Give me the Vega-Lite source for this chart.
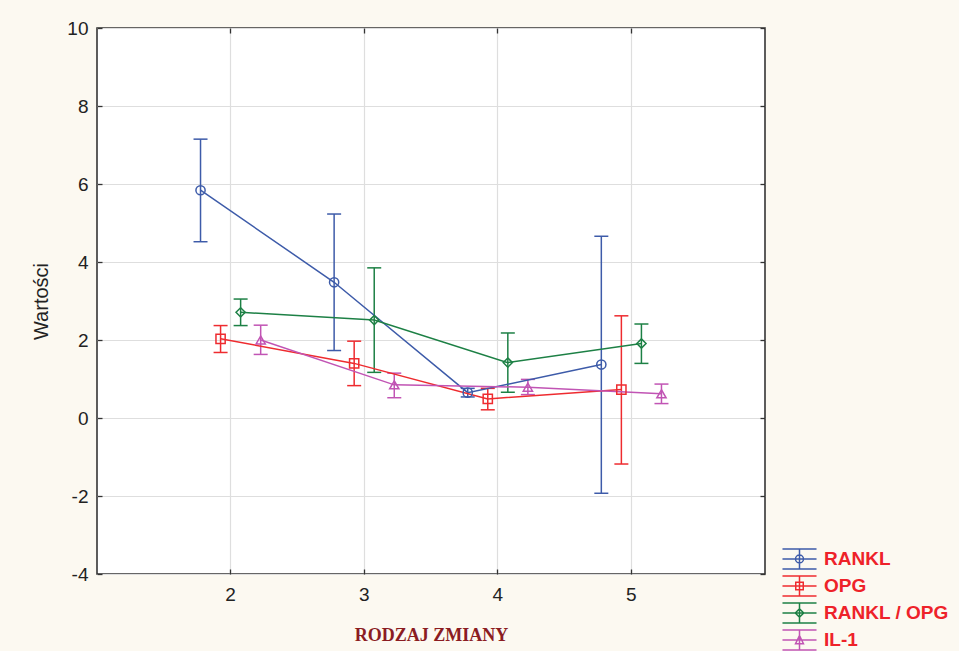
{
  "$schema": "https://vega.github.io/schema/vega-lite/v6.json",
  "width": 668,
  "height": 546,
  "autosize": {"type": "none"},
  "padding": {"left": 97, "top": 28, "right": 194, "bottom": 77},
  "background": "#fcf9f1",
  "config": {
    "font": "Liberation Sans",
    "view": {"fill": "white", "stroke": "#353535", "strokeWidth": 1.6},
    "axis": {
      "labelFont": "Liberation Sans",
      "labelFontSize": 19,
      "labelColor": "#222222",
      "tickColor": "#333333",
      "tickSize": -5,
      "tickWidth": 1.3,
      "domain": false,
      "gridColor": "#dedede",
      "gridWidth": 1.2
    },
    "legend": {"padding": 0, "rowPadding": 0}
  },
  "data": {
    "values": [
      {"rodzaj": "2", "series": "RANKL", "mean": 5.84, "lo": 4.52, "hi": 7.15},
      {"rodzaj": "3", "series": "RANKL", "mean": 3.48, "lo": 1.73, "hi": 5.23},
      {"rodzaj": "4", "series": "RANKL", "mean": 0.65, "lo": 0.54, "hi": 0.76},
      {"rodzaj": "5", "series": "RANKL", "mean": 1.37, "lo": -1.93, "hi": 4.66},
      {"rodzaj": "2", "series": "OPG", "mean": 2.03, "lo": 1.68, "hi": 2.37},
      {"rodzaj": "3", "series": "OPG", "mean": 1.40, "lo": 0.83, "hi": 1.97},
      {"rodzaj": "4", "series": "OPG", "mean": 0.49, "lo": 0.21, "hi": 0.76},
      {"rodzaj": "5", "series": "OPG", "mean": 0.73, "lo": -1.18, "hi": 2.62},
      {"rodzaj": "2", "series": "RANKL / OPG", "mean": 2.71, "lo": 2.37, "hi": 3.05},
      {"rodzaj": "3", "series": "RANKL / OPG", "mean": 2.51, "lo": 1.17, "hi": 3.85},
      {"rodzaj": "4", "series": "RANKL / OPG", "mean": 1.42, "lo": 0.66, "hi": 2.18},
      {"rodzaj": "5", "series": "RANKL / OPG", "mean": 1.91, "lo": 1.40, "hi": 2.41},
      {"rodzaj": "2", "series": "IL-1", "mean": 2.00, "lo": 1.63, "hi": 2.38},
      {"rodzaj": "3", "series": "IL-1", "mean": 0.85, "lo": 0.52, "hi": 1.15},
      {"rodzaj": "4", "series": "IL-1", "mean": 0.79, "lo": 0.60, "hi": 0.99},
      {"rodzaj": "5", "series": "IL-1", "mean": 0.62, "lo": 0.37, "hi": 0.87}
    ]
  },
  "resolve": {
    "scale": {"color": "independent", "shape": "independent"},
    "axis": {"x": "independent", "y": "independent"}
  },
  "layer": [
    {
      "mark": {"type": "rule", "strokeWidth": 1.5},
      "encoding": {
        "x": {
          "field": "rodzaj", "type": "ordinal",
          "scale": {"domain": ["2", "3", "4", "5"], "paddingInner": 0, "paddingOuter": 0.5},
          "axis": {
            "orient": "bottom", "grid": true, "bandPosition": 0.5, "labelAngle": 0,
            "labelPadding": 16, "title": "RODZAJ ZMIANY",
            "titleFont": "Liberation Serif", "titleFontWeight": "bold",
            "titleFontSize": 18, "titleColor": "#8b1c22", "titlePadding": 22
          }
        },
        "xOffset": {
          "field": "series", "type": "nominal",
          "scale": {"domain": ["RANKL", "OPG", "RANKL / OPG", "IL-1"], "paddingInner": 0, "paddingOuter": 0, "range": [26.7, 106.9]}
        },
        "y": {
          "field": "lo", "type": "quantitative",
          "scale": {"domain": [-4, 10], "nice": false, "zero": false},
          "axis": {
            "values": [-4, -2, 0, 2, 4, 6, 8, 10], "grid": true,
            "labelExpr": "replace(datum.label, '\u2212', '-')",
            "title": "Wartości", "titleFontSize": 20, "titleFontWeight": "normal",
            "titleColor": "#222222", "labelPadding": 14, "titlePadding": 15
          }
        },
        "y2": {"field": "hi"},
        "color": {
          "field": "series", "type": "nominal", "legend": null,
          "scale": {"domain": ["RANKL", "OPG", "RANKL / OPG", "IL-1"], "range": ["#3d5ba9", "#ee2b2f", "#1d8045", "#c154b4"]}
        }
      }
    },
    {
      "mark": {"type": "point", "shape": "M-1,0H1", "size": 196, "filled": false, "strokeWidth": 1.5, "opacity": 1},
      "encoding": {
        "x": {"field": "rodzaj", "type": "ordinal", "axis": null},
        "xOffset": {"field": "series", "type": "nominal"},
        "y": {"field": "hi", "type": "quantitative", "axis": null},
        "color": {
          "field": "series", "type": "nominal", "legend": null,
          "scale": {"domain": ["RANKL", "OPG", "RANKL / OPG", "IL-1"], "range": ["#3d5ba9", "#ee2b2f", "#1d8045", "#c154b4"]}
        }
      }
    },
    {
      "mark": {"type": "point", "shape": "M-1,0H1", "size": 196, "filled": false, "strokeWidth": 1.5, "opacity": 1},
      "encoding": {
        "x": {"field": "rodzaj", "type": "ordinal", "axis": null},
        "xOffset": {"field": "series", "type": "nominal"},
        "y": {"field": "lo", "type": "quantitative", "axis": null},
        "color": {
          "field": "series", "type": "nominal", "legend": null,
          "scale": {"domain": ["RANKL", "OPG", "RANKL / OPG", "IL-1"], "range": ["#3d5ba9", "#ee2b2f", "#1d8045", "#c154b4"]}
        }
      }
    },
    {
      "mark": {"type": "line", "strokeWidth": 1.5},
      "encoding": {
        "x": {"field": "rodzaj", "type": "ordinal", "axis": null},
        "xOffset": {"field": "series", "type": "nominal"},
        "y": {"field": "mean", "type": "quantitative", "axis": null},
        "color": {
          "field": "series", "type": "nominal", "legend": null,
          "scale": {"domain": ["RANKL", "OPG", "RANKL / OPG", "IL-1"], "range": ["#3d5ba9", "#ee2b2f", "#1d8045", "#c154b4"]}
        }
      }
    },
    {
      "mark": {"type": "point", "filled": false, "strokeWidth": 1.5, "size": 85, "opacity": 1},
      "encoding": {
        "x": {
          "field": "rodzaj", "type": "ordinal",
          "axis": {"orient": "top", "labels": false, "title": null, "grid": false, "bandPosition": 0.5}
        },
        "xOffset": {"field": "series", "type": "nominal"},
        "y": {
          "field": "mean", "type": "quantitative",
          "axis": {"orient": "right", "labels": false, "title": null, "grid": false, "values": [-4, -2, 0, 2, 4, 6, 8, 10]}
        },
        "color": {
          "field": "series", "type": "nominal", "legend": null,
          "scale": {"domain": ["RANKL", "OPG", "RANKL / OPG", "IL-1"], "range": ["#3d5ba9", "#ee2b2f", "#1d8045", "#c154b4"]}
        },
        "shape": {
          "field": "series", "type": "nominal", "legend": null,
          "scale": {"domain": ["RANKL", "OPG", "RANKL / OPG", "IL-1"], "range": ["circle", "square", "diamond", "triangle-up"]}
        }
      }
    },
    {
      "mark": {"type": "point", "filled": false, "strokeWidth": 1.5, "opacity": 0},
      "encoding": {
        "x": {"field": "rodzaj", "type": "ordinal", "axis": null},
        "xOffset": {"field": "series", "type": "nominal"},
        "y": {"field": "mean", "type": "quantitative", "axis": null},
        "color": {
          "field": "series", "type": "nominal",
          "scale": {"domain": ["RANKL", "OPG", "RANKL / OPG", "IL-1"], "range": ["#3d5ba9", "#ee2b2f", "#1d8045", "#c154b4"]},
          "legend": {
            "orient": "none", "legendX": 690, "legendY": 518.5, "title": null,
            "labelFont": "Liberation Sans", "labelFontSize": 19, "labelFontWeight": "bold",
            "labelColor": "#ee2229", "labelOffset": 12, "symbolSize": 515,
            "symbolStrokeWidth": 1.5, "symbolOpacity": 1
          }
        },
        "shape": {
          "field": "series", "type": "nominal",
          "scale": {
            "domain": ["RANKL", "OPG", "RANKL / OPG", "IL-1"],
            "range": [
              "M-1.5,-0.88H1.5M-1.5,0H1.5M-1.5,0.88H1.5M0,-0.88V0.88M0.35,0A0.35,0.35 0 1,1 -0.35,0A0.35,0.35 0 1,1 0.35,0Z",
              "M-1.5,-0.88H1.5M-1.5,0H1.5M-1.5,0.88H1.5M0,-0.88V0.88M-0.33,-0.33H0.33V0.33H-0.33Z",
              "M-1.5,-0.88H1.5M-1.5,0H1.5M-1.5,0.88H1.5M0,-0.88V0.88M0,-0.37L0.37,0L0,0.37L-0.37,0Z",
              "M-1.5,-0.88H1.5M-1.5,0H1.5M-1.5,0.88H1.5M0,-0.88V0.88M0,-0.39L0.35,0.33H-0.35Z"
            ]
          },
          "legend": {
            "orient": "none", "legendX": 690, "legendY": 518.5, "title": null,
            "labelFont": "Liberation Sans", "labelFontSize": 19, "labelFontWeight": "bold",
            "labelColor": "#ee2229", "labelOffset": 12, "symbolSize": 515,
            "symbolStrokeWidth": 1.5, "symbolOpacity": 1
          }
        }
      }
    }
  ]
}
